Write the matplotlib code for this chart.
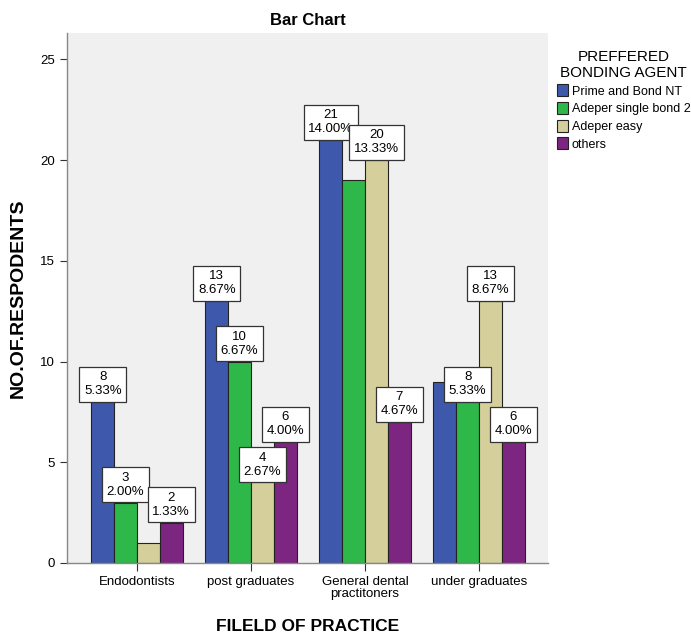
import numpy as np
import matplotlib
matplotlib.use('Agg')
import matplotlib.pyplot as plt

plt.rcParams['font.family'] = ['Liberation Sans', 'DejaVu Sans']

# data
categories = ['Endodontists', 'post graduates', 'General dental\npractitoners', 'under graduates']
agents = ['Prime and Bond NT', 'Adeper single bond 2', 'Adeper easy', 'others']
prime = [8, 13, 21, 9]
single_bond = [3, 10, 19, 8]
easy = [1, 4, 20, 13]
others = [2, 6, 7, 6]
total = 150
# which bars carry a value label in the original
show_label = [
    [True, True, True, False],
    [True, True, False, True],
    [False, True, True, True],
    [True, True, True, True],
]
colors = ['#3e58ac', '#2fb84a', '#d4cf9b', '#7d2681']

series = [prime, single_bond, easy, others]

fig = plt.figure(figsize=(6.91, 6.39), dpi=100)
ax = fig.add_axes([0.097, 0.119, 0.696, 0.829])
ax.set_facecolor('#f0f0f0')

x = np.arange(len(categories))
w = 0.2
for i, (vals, col, name) in enumerate(zip(series, colors, agents)):
    xs = x + (i - 1.5) * w
    ax.bar(xs, vals, width=w, color=col, edgecolor='#222222', linewidth=0.8,
           label=name, zorder=2)
    for j, v in enumerate(vals):
        if not show_label[i][j]:
            continue
        ax.annotate(f'{v}\n{v / total * 100:.2f}%', (xs[j], v),
                    xytext=(0, 3.5), textcoords='offset points',
                    ha='center', va='bottom', fontsize=9.5, linespacing=1.2,
                    bbox=dict(boxstyle='square,pad=0.35', facecolor='white',
                              edgecolor='#333333', linewidth=0.9),
                    zorder=5)

ax.set_xlim(-0.614, 3.605)
ax.set_ylim(0, 26.3)
ax.set_yticks([0, 5, 10, 15, 20, 25])
ax.set_xticks(x)
ax.set_xticklabels(categories, fontsize=9.5, linespacing=0.95)
ax.tick_params(axis='y', labelsize=9.5, length=5, color='#333333')
ax.tick_params(axis='x', length=6, color='#333333')

for s in ['top', 'right']:
    ax.spines[s].set_visible(False)
for s in ['left', 'bottom']:
    ax.spines[s].set_color('#888888')
    ax.spines[s].set_linewidth(1.0)

ax.set_title('Bar Chart', fontsize=12, fontweight='bold', pad=6)
ax.set_xlabel('FILELD OF PRACTICE', fontsize=12.5, fontweight='bold', labelpad=14)
ax.set_ylabel('NO.OF.RESPODENTS', fontsize=14, fontweight='bold', labelpad=10)

leg = ax.legend(title='PREFFERED\nBONDING AGENT', loc='upper left',
                bbox_to_anchor=(1.0, 0.985), frameon=False, fontsize=9,
                title_fontsize=11, handlelength=0.9, handleheight=1.1,
                handletextpad=0.3, labelspacing=0.35, borderaxespad=0.3)
leg.get_title().set_ha('center')

fig.savefig('out.png', dpi=100)
